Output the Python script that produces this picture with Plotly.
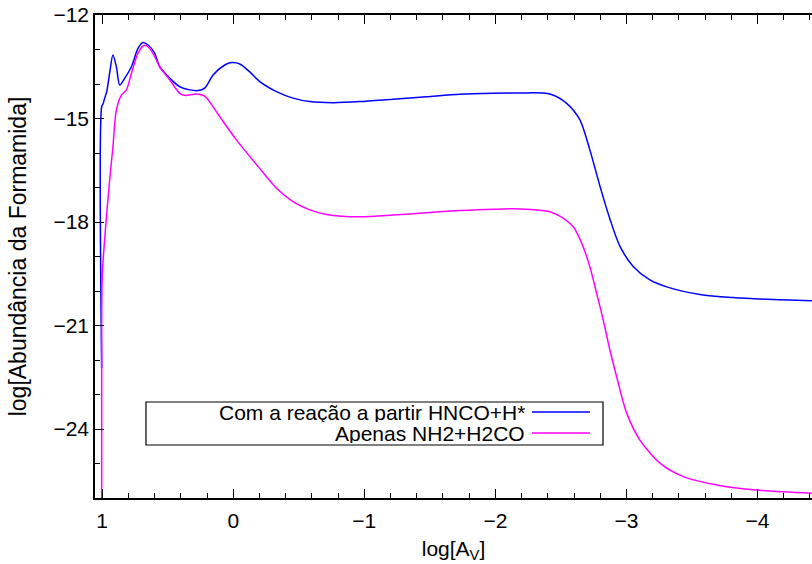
import plotly.graph_objects as go

# log[A_V] values and log abundances
x_blue = [1.004, 1.004, 0.994, 0.981, 0.966, 0.943, 0.918, 0.892, 0.866, 0.828,
          0.777, 0.727, 0.689, 0.650, 0.599, 0.561, 0.485, 0.408, 0.332, 0.269,
          0.218, 0.154, 0.065, 0.014, -0.050, -0.126, -0.202, -0.330, -0.456, -0.584,
          -0.762, -0.966, -1.220, -1.475, -1.729, -1.983, -2.187, -2.416, -2.544, -2.645,
          -2.721, -2.798, -2.874, -2.950, -3.050, -3.179, -3.307, -3.561, -3.813,
          -4.070, -4.416]
y_blue = [-22.23, -14.66, -14.58, -14.41, -14.23, -13.68, -13.16, -13.50, -14.03, -13.83,
          -13.50, -12.97, -12.80, -12.87, -13.11, -13.50, -13.83, -14.08, -14.17, -14.19,
          -14.12, -13.74, -13.45, -13.38, -13.42, -13.65, -13.93, -14.22, -14.41, -14.51,
          -14.54, -14.51, -14.44, -14.37, -14.30, -14.27, -14.26, -14.29, -14.56, -15.04,
          -15.91, -16.96, -17.91, -18.70, -19.28, -19.68, -19.88, -20.10, -20.19,
          -20.24, -20.28]

x_mag = [1.004, 1.004, 1.000, 0.973, 0.943, 0.918, 0.892, 0.853, 0.815, 0.777,
         0.727, 0.689, 0.672, 0.637, 0.599, 0.561, 0.485, 0.408, 0.370, 0.279,
         0.218, 0.103, -0.024, -0.187, -0.330, -0.456, -0.584, -0.711, -0.966, -1.220,
         -1.475, -1.729, -1.983, -2.187, -2.416, -2.492, -2.594, -2.670, -2.721, -2.773,
         -2.823, -2.874, -2.925, -3.002, -3.103, -3.256, -3.434, -3.689, -3.994, -4.416]
y_mag = [-27.00, -22.23, -19.59, -18.10, -16.78, -15.82, -14.75, -14.32, -14.17, -13.69,
         -13.11, -12.90, -12.88, -12.97, -13.21, -13.50, -13.88, -14.27, -14.33, -14.29,
         -14.35, -14.95, -15.62, -16.38, -17.02, -17.41, -17.65, -17.78, -17.85, -17.80,
         -17.73, -17.67, -17.63, -17.62, -17.70, -17.83, -18.14, -18.72, -19.30, -20.07,
         -20.84, -21.71, -22.48, -23.54, -24.32, -24.99, -25.38, -25.62, -25.77, -25.86]

series_names = ["Com a reação a partir HNCO+H*", "Apenas NH2+H2CO"]
series_colors = ["#0000ff", "#ff00ff"]

FONT = "Liberation Sans, Arial, sans-serif"

fig = go.Figure()
fig.add_trace(go.Scatter(x=x_blue, y=y_blue, mode="lines", name=series_names[0],
                         line=dict(color=series_colors[0], width=1.5, shape="spline", smoothing=0.8),
                         showlegend=False))
fig.add_trace(go.Scatter(x=x_mag, y=y_mag, mode="lines", name=series_names[1],
                         line=dict(color=series_colors[1], width=1.5, shape="spline", smoothing=0.8),
                         showlegend=False))

# gnuplot-style legend box (sample lines on the right of right-aligned text)
lx0, lx1, ly0, ly1 = 0.0711, 0.7085, 0.1097, 0.1988
fig.add_shape(type="rect", xref="paper", yref="paper", x0=lx0, x1=lx1, y0=ly0, y1=ly1,
              line=dict(color="black", width=1.2), fillcolor="rgba(0,0,0,0)")
rows_y = [0.178, 0.1346]
for name, col, yy in zip(series_names, series_colors, rows_y):
    fig.add_shape(type="line", xref="paper", yref="paper", x0=0.6095, x1=0.6904, y0=yy, y1=yy,
                  line=dict(color=col, width=1.5))
    fig.add_annotation(xref="paper", yref="paper", x=0.6025, y=yy, text=name,
                       showarrow=False, xanchor="right", yanchor="middle", height=20,
                       font=dict(family=FONT, size=21, color="black"))

fig.update_layout(
    width=812, height=564,
    margin=dict(l=95, r=0, t=15, b=66),
    paper_bgcolor="white", plot_bgcolor="white",
    font=dict(family=FONT, size=21, color="black"),
    xaxis=dict(range=[1.055, -4.416], tick0=0, dtick=1, ticks="inside", ticklen=9,
               tickwidth=1, tickcolor="black", showline=True, linecolor="black", linewidth=1.5,
               mirror="allticks", showgrid=False, zeroline=False, automargin=False,
               ticklabelstandoff=3,
               minor=dict(dtick=0.2, ticks="inside", ticklen=5, tickcolor="black", tickwidth=1),
               title=dict(text="log[A<sub>V</sub>]", font=dict(size=21), standoff=10),
               tickfont=dict(size=21)),
    yaxis=dict(range=[-26, -12], tick0=-12, dtick=3, ticks="inside", ticklen=9,
               tickwidth=1, tickcolor="black", showline=True, linecolor="black", linewidth=1.5,
               mirror=False, showgrid=False, zeroline=False, automargin=False,
               minor=dict(dtick=1, ticks="inside", ticklen=5, tickcolor="black", tickwidth=1),
               title=dict(text="log[Abundância da Formamida]", font=dict(size=23), standoff=20),
               tickfont=dict(size=21)),
)

fig.write_html("out.html", config={"displayModeBar": False},
               post_script="document.body.style.margin='0';document.body.style.overflow='hidden';")
